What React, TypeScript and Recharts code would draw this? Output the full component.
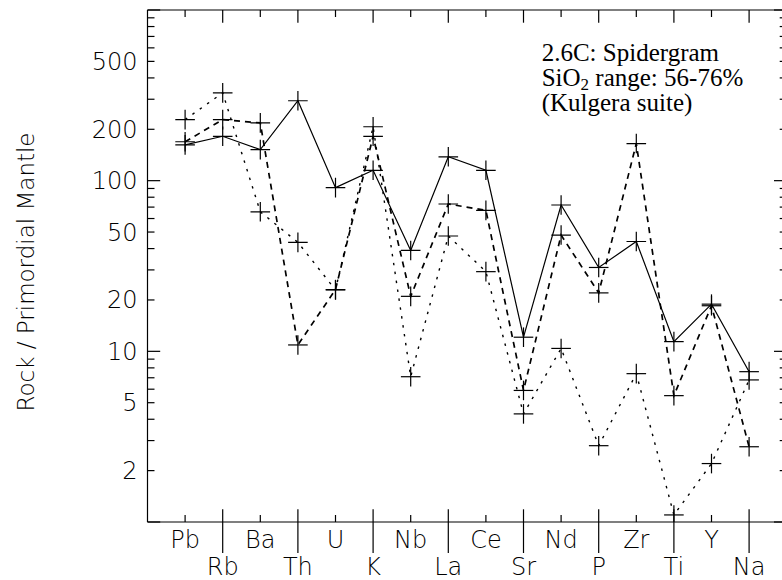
import React from 'react';
import { LineChart, Line, XAxis, YAxis } from 'recharts';

// element order along the spidergram
const elements = ['Pb', 'Rb', 'Ba', 'Th', 'U', 'K', 'Nb', 'La', 'Ce', 'Sr', 'Nd', 'P', 'Zr', 'Ti', 'Y', 'Na'];

// normalised values (rock / primordial mantle)
const solidSeries = [162, 182, 152, 294, 91, 115, 39, 138, 115, 12.1, 72, 31, 44, 11.4, 18.9, 7.6];
const dashedSeries = [169, 228, 218, 10.9, 23, 182, 21, 73, 67, 5.9, 48, 22, 165, 5.5, 18.5, 2.76];
const dottedSeries = [228, 327, 65.7, 43.5, 22.9, 207, 7.1, 47.4, 29.3, 4.3, 10.4, 2.8, 7.4, 1.1, 2.2, 6.8];

const yTicks = [1, 2, 3, 4, 5, 6, 7, 8, 9, 10, 20, 30, 40, 50, 60, 70, 80, 90, 100, 200, 300, 400, 500, 600, 700, 800, 900, 1000];
const yLabels = [2, 5, 10, 20, 50, 100, 200, 500];
const xTicks = elements.map((_, i) => i + 1);

const data = elements.map((el, i) => ({
  x: i + 1,
  el,
  solid: solidSeries[i],
  dashed: dashedSeries[i],
  dotted: dottedSeries[i],
}));

const SANS = "'DejaVu Sans', sans-serif";
const SERIF = "'Liberation Serif', 'Times New Roman', serif";
const MAJOR = 12.7;
const MINOR = 7;

const isDecade = (v: number) => [1, 10, 100, 1000].includes(v);

const Plus = (props: any) => {
  const { cx, cy } = props;
  if (cx == null || cy == null) return null;
  const r = 9.8;
  return (
    <g>
      <line x1={cx - r} x2={cx + r} y1={cy} y2={cy} stroke="#000" strokeWidth={1.2} />
      <line x1={cx} x2={cx} y1={cy - r} y2={cy + r} stroke="#000" strokeWidth={1.2} />
    </g>
  );
};

const BottomTick = (props: any) => {
  const { x, y, payload } = props;
  const i = payload.value - 1;
  const lower = i % 2 === 1;
  return (
    <g>
      <line x1={x} x2={x} y1={y - (lower ? MAJOR : MINOR)} y2={lower ? y + 31 : y} stroke="#000" strokeWidth={1.2} />
      <text x={x} y={y + (lower ? 53 : 26)} textAnchor="middle" fontFamily={SANS} fontWeight={200} fontSize={24} fill="#000">
        {elements[i]}
      </text>
    </g>
  );
};

const TopTick = (props: any) => {
  const { x, y, payload } = props;
  const lower = (payload.value - 1) % 2 === 1;
  return <line x1={x} x2={x} y1={y} y2={y + (lower ? MAJOR : MINOR)} stroke="#000" strokeWidth={1.2} />;
};

const LeftTick = (props: any) => {
  const { x, y, payload } = props;
  const v = payload.value;
  return (
    <g>
      <line x1={x} x2={x + (isDecade(v) ? MAJOR : MINOR)} y1={y} y2={y} stroke="#000" strokeWidth={1.2} />
      {yLabels.includes(v) && (
        <text x={x - 10} y={y + 8.5} textAnchor="end" fontFamily={SANS} fontWeight={200} fontSize={24} fill="#000">
          {v}
        </text>
      )}
    </g>
  );
};

const RightTick = (props: any) => {
  const { x, y, payload } = props;
  const v = payload.value;
  return <line x1={x} x2={x - (isDecade(v) ? MAJOR : MINOR)} y1={y} y2={y} stroke="#000" strokeWidth={1.2} />;
};

const axisLine = { stroke: '#000', strokeWidth: 1.2 };

export default function App() {
  return (
    <div style={{ position: 'relative', width: 782, height: 580, overflow: 'hidden', background: '#fff' }}>
      <style>{'body{margin:0;overflow:hidden;background:#fff}'}</style>
      <LineChart width={800} height={580} data={data} margin={{ top: 9, right: 12.3, bottom: 57, left: 146.5 }}>
        <XAxis
          xAxisId="bottom"
          type="number"
          dataKey="x"
          domain={[0, 17]}
          ticks={xTicks}
          allowDataOverflow
          height={1}
          tickSize={0}
          tickMargin={0}
          tickLine={false}
          axisLine={axisLine}
          tick={<BottomTick />}
          interval={0}
        />
        <XAxis
          xAxisId="top"
          orientation="top"
          type="number"
          dataKey="x"
          domain={[0, 17]}
          ticks={xTicks}
          allowDataOverflow
          height={1}
          tickSize={0}
          tickMargin={0}
          tickLine={false}
          axisLine={axisLine}
          tick={<TopTick />}
          interval={0}
        />
        <YAxis
          yAxisId="left"
          type="number"
          scale="log"
          domain={[1, 1000]}
          ticks={yTicks}
          allowDataOverflow
          width={1}
          tickSize={0}
          tickMargin={0}
          tickLine={false}
          axisLine={axisLine}
          tick={<LeftTick />}
          interval={0}
        />
        <YAxis
          yAxisId="right"
          orientation="right"
          type="number"
          scale="log"
          domain={[1, 1000]}
          ticks={yTicks}
          allowDataOverflow
          width={1}
          tickSize={0}
          tickMargin={0}
          tickLine={false}
          axisLine={axisLine}
          tick={<RightTick />}
          interval={0}
        />
        <Line
          xAxisId="bottom"
          yAxisId="left"
          type="linear"
          dataKey="solid"
          stroke="#000"
          strokeWidth={1.2}
          dot={(p: any) => <Plus key={`s-${p.index}`} {...p} />}
          isAnimationActive={false}
        />
        <Line
          xAxisId="bottom"
          yAxisId="left"
          type="linear"
          dataKey="dashed"
          stroke="#000"
          strokeWidth={1.7}
          strokeDasharray="6 5"
          dot={(p: any) => <Plus key={`d-${p.index}`} {...p} />}
          isAnimationActive={false}
        />
        <Line
          xAxisId="bottom"
          yAxisId="left"
          type="linear"
          dataKey="dotted"
          stroke="#000"
          strokeWidth={1.4}
          strokeDasharray="2.5 6.5"
          dot={(p: any) => <Plus key={`f-${p.index}`} {...p} />}
          isAnimationActive={false}
        />
      </LineChart>
      <svg width={782} height={580} style={{ position: 'absolute', left: 0, top: 0, pointerEvents: 'none' }}>
        <text
          transform="translate(34,272) rotate(-90)"
          textAnchor="middle"
          fontFamily={SANS}
          fontWeight={200}
          fontSize={23}
          fill="#000"
        >
          Rock / Primordial Mantle
        </text>
        <text fontFamily={SERIF} fontSize={25} fill="#000">
          <tspan x={541.7} y={61}>2.6C: Spidergram</tspan>
          <tspan x={541.7} y={86}>SiO</tspan>
          <tspan fontSize={17} dy={3.5}>2</tspan>
          <tspan dy={-3.5}> range: 56-76%</tspan>
          <tspan x={541.7} y={111}>(Kulgera suite)</tspan>
        </text>
      </svg>
    </div>
  );
}
